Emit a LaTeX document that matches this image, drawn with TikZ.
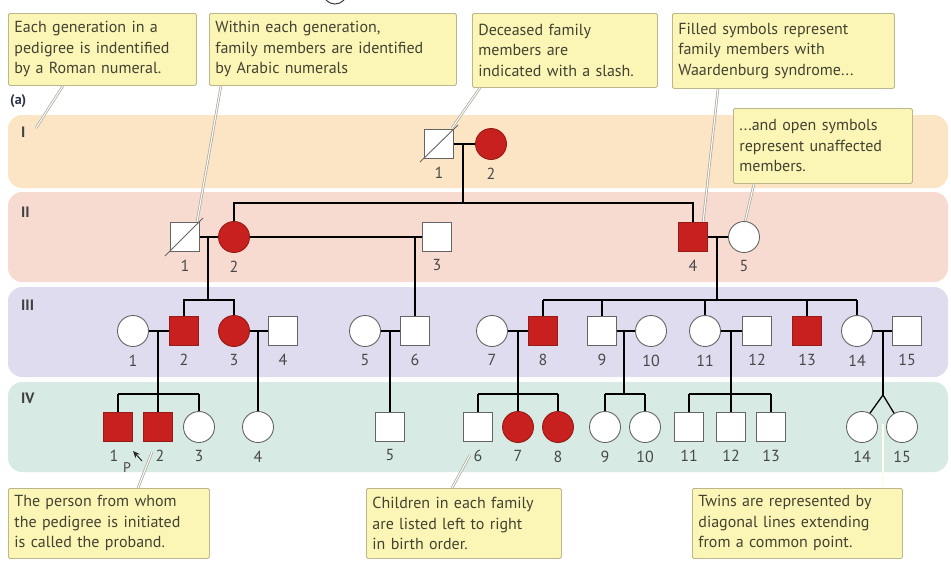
\documentclass[tikz,border=0pt]{standalone}
\usepackage{fontspec}
\setmainfont{PT Sans}
\usetikzlibrary{arrows.meta,calc}

\definecolor{bandI}{RGB}{251,229,197}
\definecolor{bandII}{RGB}{248,219,208}
\definecolor{bandIII}{RGB}{222,220,238}
\definecolor{bandIV}{RGB}{215,234,228}
\definecolor{redfill}{RGB}{200,32,30}
\definecolor{redline}{RGB}{150,28,24}
\definecolor{openline}{RGB}{100,100,100}
\definecolor{notefill}{RGB}{252,246,182}
\definecolor{noteline}{RGB}{188,182,140}
\definecolor{notetext}{RGB}{66,66,50}
\definecolor{numtext}{RGB}{72,72,72}
\definecolor{headtext}{RGB}{45,52,78}

\tikzset{
  male/.style={rectangle, draw=openline, fill=white, minimum size=29pt, inner sep=0pt, line width=0.9pt},
  female/.style={circle, draw=openline, fill=white, minimum size=31pt, inner sep=0pt, line width=0.9pt},
  ill/.style={fill=redfill, draw=redline},
  every label/.style={font=\fontsize{16}{16}\selectfont, text=numtext, inner sep=1pt},
  label distance=6.5pt,
  kin/.style={line width=1.3pt, draw=black},
  slash/.style={line width=0.9pt, draw=openline},
  band/.style={rounded corners=14pt},
  gen/.style={font=\bfseries\fontsize{15}{15}\selectfont, text=black!75, anchor=west, inner sep=0pt},
  note/.style={draw=noteline, fill=notefill, line width=0.8pt, rounded corners=1.5pt,
    align=left, anchor=north west, text=notetext, inner xsep=6pt, inner ysep=0pt,
    font=\fontsize{16}{20.5}\selectfont},
  pointer/.style={draw=gray!70, double=white!75!notefill, double distance=1.1pt, line width=0.7pt},
}

\begin{document}
\begin{tikzpicture}[x=1pt,y=-1pt]
\useasboundingbox (0,0) rectangle (951,563);
\clip (0,0) rectangle (951,563);
\fill[white] (0,0) rectangle (951,563);

% ring at the upper edge
\draw[line width=1pt, black!75] (335,-8) circle (12);

% generation bands
\fill[bandI, band] (8,115) rectangle (948,188);
\fill[bandII, band] (8,192) rectangle (948,282);
\fill[bandIII, band] (8,287) rectangle (948,377);
\fill[bandIV, band] (8,382) rectangle (948,472);

\node[gen, text=headtext, font=\bfseries\fontsize{14}{14}\selectfont] (parta) at (10,101) {(a)};
\node[gen] (gI) at (21,132) {I};
\node[gen] (gII) at (21,212) {II};
\node[gen] (gIII) at (21,305) {III};
\node[gen] (gIV) at (21,398) {IV};

% callout boxes
\node[note, text width=176pt, minimum height=72pt] (n1) at (8,13)
  {Each generation in a\\pedigree is indentified\\by a Roman numeral.};
\node[note, text width=235pt, minimum height=72pt] (n2) at (209,13)
  {Within each generation,\\family members are identified\\by Arabic numerals};
\node[note, text width=173pt, minimum height=74pt] (n3) at (472,13)
  {Deceased family\\members are\\indicated with a slash.};
\node[note, text width=210pt, minimum height=75pt] (n4) at (672,13)
  {Filled symbols represent\\family members with\\Waardenburg syndrome...};
\node[note, text width=167pt, minimum height=75pt] (n5) at (733,108)
  {...and open symbols\\represent unaffected\\members.};
\node[note, text width=189pt, minimum height=70pt] (n6) at (8,488)
  {The person from whom\\the pedigree is initiated\\is called the proband.};
\node[note, text width=183pt, minimum height=70pt] (n7) at (366,488)
  {Children in each family\\are listed left to right\\in birth order.};
\node[note, text width=198pt, minimum height=70pt] (n8) at (692,488)
  {Twins are represented by\\diagonal lines extending\\from a common point.};

% pointer ends
\coordinate (e1) at (36,128);
\coordinate (e2) at (197,222);
\coordinate (e3) at (452,128);
\coordinate (e4) at (703,223);
\coordinate (e5) at (745,222);
\coordinate (e6) at (152,452);
\coordinate (e7) at (470,455);
\coordinate (e8) at (883,424);
\draw[pointer] ($(n1.south west)+(55,0)$) -- (e1);
\draw[pointer] ($(n2.south west)+(12,0)$) -- (e2);
\draw[pointer] ($(n3.south west)+(8,0)$) -- (e3);
\draw[pointer] ($(n4.south west)+(46,0)$) -- (e4);
\draw[pointer] ($(n5.south west)+(21,0)$) -- (e5);
\draw[pointer] ($(n6.north west)+(130,0)$) -- (e6);
\draw[pointer] ($(n7.north west)+(86,0)$) -- (e7);
\draw[pointer] ($(n8.north west)+(191,0)$) -- (e8);

% generation I
\node[male, label=below:1] (I1) at (439,144) {};
\node[female, ill, label=below:2] (I2) at (491,144) {};

% generation II
\node[male, label=below:1] (II1) at (185,237) {};
\node[female, ill, label=below:2] (II2) at (234,237) {};
\node[male, label=below:3] (II3) at (437,237) {};
\node[male, ill, label=below:4] (II4) at (693,237) {};
\node[female, label=below:5] (II5) at (744,237) {};

% generation III
\node[female, label=below:1] (III1) at (133,331) {};
\node[male, ill, label=below:2] (III2) at (184,331) {};
\node[female, ill, label=below:3] (III3) at (234,331) {};
\node[male, label=below:4] (III4) at (283,331) {};
\node[female, label=below:5] (III5) at (365,331) {};
\node[male, label=below:6] (III6) at (415,331) {};
\node[female, label=below:7] (III7) at (492,331) {};
\node[male, ill, label=below:8] (III8) at (543,331) {};
\node[male, label=below:9] (III9) at (602,331) {};
\node[female, label=below:10] (III10) at (651,331) {};
\node[female, label=below:11] (III11) at (705,331) {};
\node[male, label=below:12] (III12) at (757,331) {};
\node[male, ill, label=below:13] (III13) at (807,331) {};
\node[female, label=below:14] (III14) at (857,331) {};
\node[male, label=below:15] (III15) at (907,331) {};

% generation IV
\node[male, ill, label={[xshift=-4pt]below:1}] (IV1) at (118,427) {};
\node[male, ill, label={[xshift=2pt]below:2}] (IV2) at (158,427) {};
\node[female, label=below:3] (IV3) at (199,427) {};
\node[female, label=below:4] (IV4) at (258,427) {};
\node[male, label=below:5] (IV5) at (390,427) {};
\node[male, label=below:6] (IV6) at (478,427) {};
\node[female, ill, label=below:7] (IV7) at (518,427) {};
\node[female, ill, label=below:8] (IV8) at (558,427) {};
\node[female, label=below:9] (IV9) at (605,427) {};
\node[female, label=below:10] (IV10) at (645,427) {};
\node[male, label=below:11] (IV11) at (689,427) {};
\node[male, label=below:12] (IV12) at (731,427) {};
\node[male, label=below:13] (IV13) at (771,427) {};
\node[female, label=below:14] (IV14) at (862,427) {};
\node[female, label=below:15] (IV15) at (902,427) {};

% deceased
\draw[slash] ($(I1.center)+(-19,18)$) -- ($(I1.center)+(19,-19)$);
\draw[slash] ($(II1.center)+(-20,19)$) -- ($(II1.center)+(18,-19)$);

% junction points
\coordinate (mI) at (463,144);   \coordinate (sII) at (463,203);
\coordinate (mIIa) at (208,237); \coordinate (sIIIa) at (208,300);
\coordinate (mIIb) at (415,237);
\coordinate (mIIc) at (717,237); \coordinate (sIIIc) at (717,300);
\coordinate (mIIIa) at (158,331); \coordinate (sIVa) at (158,394);
\coordinate (mIIIb) at (258,331);
\coordinate (mIIIc) at (390,331);
\coordinate (mIIId) at (518,331); \coordinate (sIVd) at (518,394);
\coordinate (mIIIe) at (624,331); \coordinate (sIVe) at (624,394);
\coordinate (mIIIf) at (731,331); \coordinate (sIVf) at (731,394);
\coordinate (mIIIg) at (883,331); \coordinate (tw) at (883,395);

% matings
\draw[kin] (I1.east) -- (I2.west);
\draw[kin] (II1.east) -- (II2.west);
\draw[kin] (II2.east) -- (II3.west);
\draw[kin] (II4.east) -- (II5.west);
\draw[kin] (III1.east) -- (III2.west);
\draw[kin] (III3.east) -- (III4.west);
\draw[kin] (III5.east) -- (III6.west);
\draw[kin] (III7.east) -- (III8.west);
\draw[kin] (III9.east) -- (III10.west);
\draw[kin] (III11.east) -- (III12.west);
\draw[kin] (III14.east) -- (III15.west);

% descent and sibships
\draw[kin] (mI) -- (sII);
\draw[kin] (II2.north) -- (II2.north |- sII) -- (II4.north |- sII) -- (II4.north);

\draw[kin] (mIIa) -- (sIIIa);
\draw[kin] (III2.north) -- (III2.north |- sIIIa) -- (III3.north |- sIIIa) -- (III3.north);
\draw[kin] (mIIb) -- (III6.north);
\draw[kin] (mIIc) -- (sIIIc);
\draw[kin] (III8.north |- sIIIc) -- (III14.north |- sIIIc);
\foreach \p in {III8,III9,III11,III13,III14} \draw[kin] (\p.north |- sIIIc) -- (\p.north);

\draw[kin] (mIIIa) -- (sIVa);
\draw[kin] (IV1.north |- sIVa) -- (IV3.north |- sIVa);
\foreach \p in {IV1,IV2,IV3} \draw[kin] (\p.north |- sIVa) -- (\p.north);
\draw[kin] (mIIIb) -- (IV4.north);
\draw[kin] (mIIIc) -- (IV5.north);
\draw[kin] (mIIId) -- (sIVd);
\draw[kin] (IV6.north |- sIVd) -- (IV8.north |- sIVd);
\foreach \p in {IV6,IV7,IV8} \draw[kin] (\p.north |- sIVd) -- (\p.north);
\draw[kin] (mIIIe) -- (sIVe);
\draw[kin] (IV9.north |- sIVe) -- (IV10.north |- sIVe);
\foreach \p in {IV9,IV10} \draw[kin] (\p.north |- sIVe) -- (\p.north);
\draw[kin] (mIIIf) -- (sIVf);
\draw[kin] (IV11.north |- sIVf) -- (IV13.north |- sIVf);
\foreach \p in {IV11,IV12,IV13} \draw[kin] (\p.north |- sIVf) -- (\p.north);
\draw[kin] (mIIIg) -- (tw);
\draw[kin] (tw) -- (IV14.60);
\draw[kin] (tw) -- (IV15.120);

% proband marker
\coordinate (pa) at (142,461);
\coordinate (pb) at (133,451);
\draw[-{Stealth[length=7pt,width=6pt]}, line width=1pt, black!85] (pa) -- (pb);
\node[font=\fontsize{14}{14}\selectfont, text=numtext, inner sep=0pt] (P) at (127,468) {P};
\end{tikzpicture}
\end{document}
